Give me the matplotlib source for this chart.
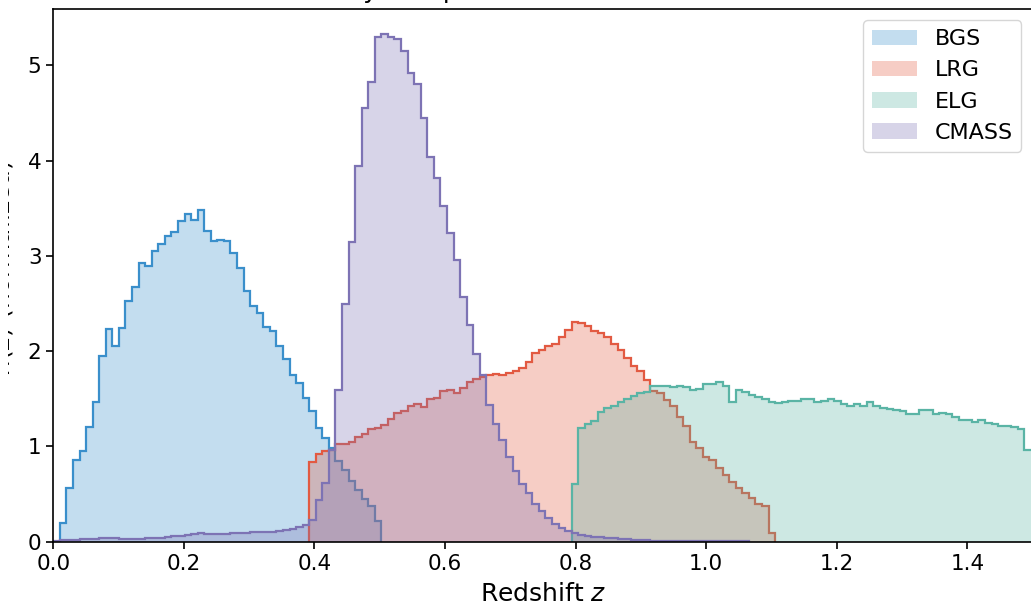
import numpy as np
import matplotlib
matplotlib.use("Agg")
import matplotlib.pyplot as plt
from matplotlib.patches import Patch, Rectangle

# ---- data -------------------------------------------------------------
samples = ["BGS", "LRG", "ELG", "CMASS"]
bin_width = 2.0 / 199          # common histogram bin width in z

# first bin index (edge = index * bin_width) for each sample
bgs_start, lrg_start, elg_start, cmass_start = 1, 39, 79, 0

bgs_values = [0.20, 0.56, 0.86, 0.95, 1.20, 1.47, 1.95, 2.23, 2.05, 2.24,
              2.53, 2.67, 2.93, 2.89, 3.05, 3.13, 3.21, 3.25, 3.37, 3.44,
              3.38, 3.48, 3.26, 3.16, 3.17, 3.16, 3.03, 2.87, 2.63, 2.47,
              2.40, 2.25, 2.21, 2.06, 1.92, 1.75, 1.67, 1.51, 1.37, 1.19,
              1.09, 0.98, 0.85, 0.75, 0.64, 0.54, 0.45, 0.38, 0.22]

lrg_values = [0.84, 0.92, 0.95, 0.96, 1.03, 1.03, 1.05, 1.10, 1.13, 1.18,
              1.19, 1.23, 1.29, 1.35, 1.37, 1.43, 1.45, 1.41, 1.50, 1.51,
              1.58, 1.59, 1.56, 1.61, 1.68, 1.71, 1.73, 1.75, 1.76, 1.75,
              1.77, 1.79, 1.82, 1.89, 1.98, 2.01, 2.05, 2.08, 2.15, 2.22,
              2.31, 2.30, 2.27, 2.21, 2.19, 2.15, 2.08, 2.01, 1.93, 1.84,
              1.79, 1.70, 1.58, 1.56, 1.49, 1.42, 1.31, 1.21, 1.05, 0.98,
              0.89, 0.86, 0.77, 0.70, 0.63, 0.56, 0.51, 0.46, 0.40, 0.38,
              0.09]

elg_values = [0.61, 1.19, 1.24, 1.27, 1.36, 1.40, 1.42, 1.47, 1.50, 1.53,
              1.56, 1.57, 1.63, 1.63, 1.63, 1.62, 1.63, 1.62, 1.59, 1.60,
              1.66, 1.66, 1.68, 1.63, 1.47, 1.59, 1.57, 1.54, 1.52, 1.50,
              1.47, 1.46, 1.47, 1.48, 1.48, 1.50, 1.50, 1.47, 1.48, 1.50,
              1.48, 1.45, 1.43, 1.45, 1.42, 1.47, 1.42, 1.40, 1.39, 1.38,
              1.37, 1.34, 1.34, 1.38, 1.38, 1.34, 1.35, 1.34, 1.31, 1.28,
              1.28, 1.26, 1.28, 1.25, 1.24, 1.22, 1.21, 1.20, 1.18, 0.96,
              0.96]

cmass_values = [0.010, 0.015, 0.020, 0.020, 0.025, 0.030, 0.030, 0.035, 0.040, 0.040,
                0.030, 0.025, 0.030, 0.030, 0.035, 0.035, 0.040, 0.050, 0.055, 0.060,
                0.070, 0.080, 0.090, 0.085, 0.080, 0.080, 0.085, 0.090, 0.090, 0.095,
                0.100, 0.100, 0.100, 0.105, 0.110, 0.120, 0.130, 0.150, 0.180, 0.230,
                0.44, 0.62, 0.96, 1.59, 2.50, 3.15, 3.94, 4.55, 4.83, 5.30,
                5.33, 5.30, 5.28, 5.15, 4.92, 4.81, 4.45, 4.04, 3.82, 3.52,
                3.24, 2.96, 2.57, 2.28, 1.97, 1.75, 1.44, 1.24, 1.07, 0.89,
                0.74, 0.61, 0.51, 0.40, 0.32, 0.25, 0.19, 0.14, 0.11, 0.09,
                0.07, 0.06, 0.05, 0.045, 0.04, 0.035, 0.03, 0.025, 0.02, 0.02,
                0.015, 0.01, 0.01, 0.01, 0.01, 0.01, 0.01, 0.01, 0.01, 0.01,
                0.01, 0.005, 0.005, 0.005, 0.005, 0.005]

line_colors = ["#3a8fcb", "#e25a42", "#5ab4a5", "#7d73b4"]
fill_alpha = 0.3

x_ticks = [0.0, 0.2, 0.4, 0.6, 0.8, 1.0, 1.2, 1.4]
y_ticks = [0, 1, 2, 3, 4, 5]

# ---- figure -----------------------------------------------------------
plt.rcParams["font.family"] = ["DejaVu Sans"]
fig = plt.figure(figsize=(10.31, 6.08), dpi=100)
ax = fig.add_axes([53.3 / 1031, 66.3 / 608, 979.3 / 1031, 532.4 / 608])

series = [(bgs_start, bgs_values), (lrg_start, lrg_values),
          (elg_start, elg_values), (cmass_start, cmass_values)]

for (start, vals), col in zip(series, line_colors):
    vals = np.asarray(vals)
    edges = (start + np.arange(len(vals) + 1)) * bin_width
    ax.stairs(vals, edges, fill=True, color=col, alpha=fill_alpha, linewidth=0)
    ax.stairs(vals, edges, fill=False, color=col, linewidth=1.6)

ax.set_xlim(0, 1.5)
ax.set_ylim(0, 5.59)
ax.set_xticks(x_ticks)
ax.set_xticklabels([f"{t:.1f}" for t in x_ticks])
ax.set_yticks(y_ticks)
ax.tick_params(labelsize=15.5, length=5, width=1.2)
for sp in ax.spines.values():
    sp.set_linewidth(1.2)

ax.set_xlabel("Redshift $z$", fontsize=18, labelpad=6)
ax.set_ylabel("$n(z)$ (normalized)", fontsize=18)
ax.yaxis.set_label_coords(-0.0395, 0.516)
ax.set_title("Redshift Density Comparison of the DESI and BOSS Tracers",
             fontsize=18, pad=8.2)

handles = [Patch(facecolor=c, alpha=fill_alpha, edgecolor="none") for c in line_colors]
ax.legend(handles, samples, loc="upper right", fontsize=16, framealpha=0.8,
          edgecolor="#cccccc")

# the reference picture is a crop: its leftmost strip is blank
fig.patches.append(Rectangle((0, 0), 8 / 1031, 1, transform=fig.transFigure,
                             facecolor="white", edgecolor="none", zorder=10))

fig.savefig("out.png", dpi=100)
